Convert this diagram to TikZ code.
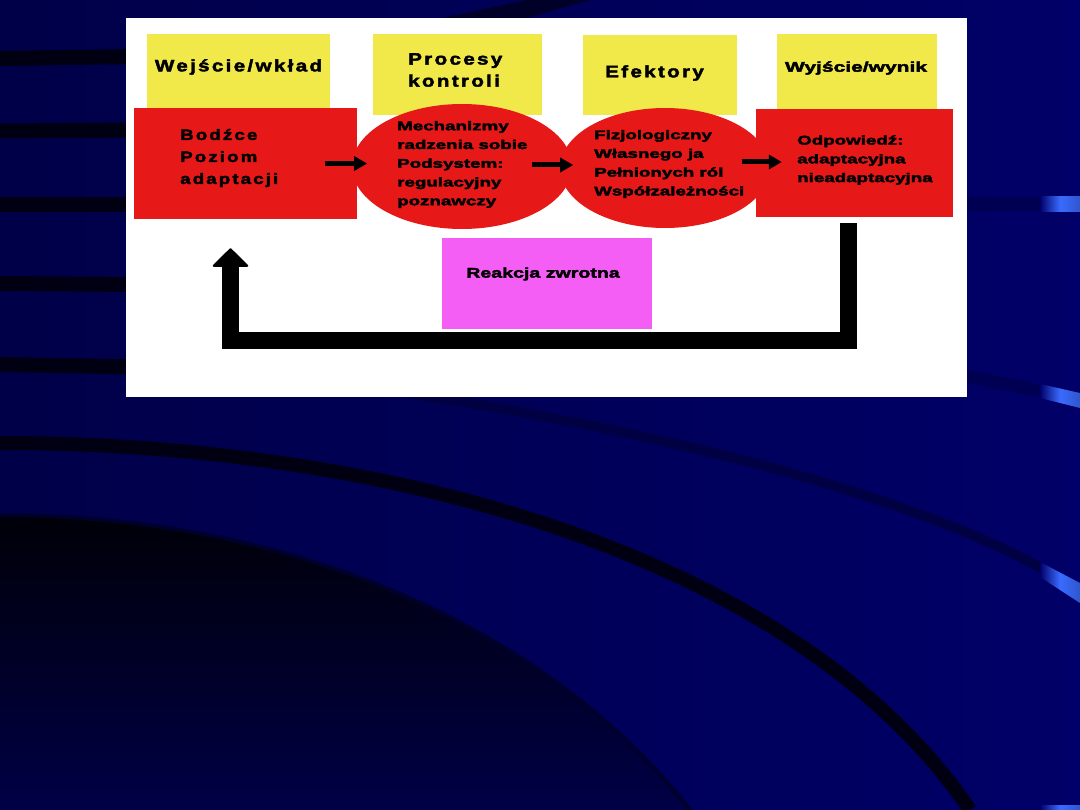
\documentclass[tikz,border=0pt]{standalone}
\usepackage{fontspec}
\setmainfont{Liberation Sans}
\newfontfamily\hdrfont{Liberation Sans}[FakeStretch=1.25,LetterSpace=14,FakeBold=2.5]
\newfontfamily\bodyfont{Liberation Sans}[FakeStretch=1.5,FakeBold=3.2]
\newfontfamily\pinkfont{Liberation Sans}[FakeStretch=1.4,FakeBold=2.8]
\usetikzlibrary{shapes.geometric,arrows.meta,calc}
\definecolor{ybox}{HTML}{F1E94A}
\definecolor{rbox}{HTML}{E61818}
\definecolor{pbox}{HTML}{F55EF5}
\definecolor{bgl}{HTML}{000048}
\definecolor{bgr}{HTML}{000068}
\definecolor{stripe}{HTML}{000012}
\definecolor{faint}{HTML}{000042}
\definecolor{faintr}{HTML}{000052}
\definecolor{hl}{HTML}{3A6BFF}
\definecolor{darkin}{HTML}{000008}
\definecolor{darkout}{HTML}{000046}
\begin{document}
\begin{tikzpicture}[x=1pt,y=-1pt,
  yel/.style={rectangle, fill=ybox, inner sep=0pt},
  redbox/.style={rectangle, fill=rbox, inner sep=0pt},
  redell/.style={ellipse, fill=rbox, inner sep=0pt},
  pinkbox/.style={rectangle, fill=pbox, inner sep=0pt},
  hdr/.style={inner sep=0pt, text=black, align=left, font={\hdrfont\bfseries\fontsize{16.5}{22}\selectfont}},
  hdrs/.style={inner sep=0pt, text=black, align=left, font={\hdrfont\bfseries\fontsize{15}{22}\selectfont}},
  body/.style={inner sep=0pt, text=black, align=left, font={\bodyfont\bfseries\fontsize{12.5}{18.75}\selectfont}},
  bodybig/.style={inner sep=0pt, text=black, align=left, font={\bodyfont\bfseries\fontsize{14}{18}\selectfont}},
  pinktext/.style={inner sep=0pt, text=black, font={\pinkfont\bfseries\fontsize{14}{16}\selectfont}},
  arr/.style={line width=5pt, -{Triangle[width=14pt,length=13pt]}},
  fb/.style={line width=17pt, line join=miter, -{Triangle[width=38pt,length=19pt,line width=2pt,round]}},
  hilite/.style={left color=bgr, right color=hl!80!black, middle color=hl}
]
\useasboundingbox (0,0) rectangle (1080,810);
% background
\shade[left color=bgl, right color=bgr] (0,0) rectangle (1080,810);
\fill[stripe!60!bgl] (442,18) -- (527,0) -- (590,0) -- (527,18) -- cycle;
% dark bottom-left region
\shade[top color=darkin, bottom color=darkout] (0,515) .. controls (280,515) and (540,620) .. (690,810) -- (0,810) -- cycle;
\draw[stripe!50!darkout, line width=4pt] (0,515) .. controls (280,515) and (540,620) .. (690,810);
% arcs
\draw[faint, line width=10pt] (400,392) .. controls (650,430) and (900,490) .. (1045,570);
\draw[stripe, line width=14pt] (0,443) .. controls (400,443) and (800,560) .. (970,810);
% left stripes
\foreach \ya/\yb in {58.5/56.5, 131/130, 204.5/204.5, 283.5/284.5, 364.5/367}
  \draw[stripe, line width=15pt] (0,\ya) -- (140,\yb);
% right faint bands and highlights
\draw[faintr, line width=14pt] (960,204.5) -- (1040,204.5);
\draw[faintr, line width=13pt] (960,375) -- (1040,391);
\shade[hilite] (1040,197) rectangle (1080,212);
\shade[hilite] (1040,384) -- (1080,393) -- (1080,408) -- (1040,398) -- cycle;
\shade[hilite] (1040,562) -- (1080,583) -- (1080,603) -- (1040,577) -- cycle;
\shade[hilite] (1040,805) rectangle (1080,810);
% white panel
\fill[white] (126,18) rectangle (967,397);
% yellow header boxes
\node[yel, minimum width=183pt, minimum height=81pt] (y1) at (238.5,74.5) {};
\node[yel, minimum width=169pt, minimum height=81pt] (y2) at (457.5,74.5) {};
\node[yel, minimum width=154pt, minimum height=80pt] (y3) at (660,75) {};
\node[yel, minimum width=160pt, minimum height=81pt] (y4) at (857,74.5) {};
% red shapes
\node[redell, minimum width=210pt, minimum height=120pt] (el2) at (665,168) {};
\node[redell, minimum width=220pt, minimum height=125pt] (el1) at (462,166.5) {};
\node[redbox, minimum width=223pt, minimum height=111pt] (bx1) at (245.5,163.5) {};
\node[redbox, minimum width=197pt, minimum height=108pt] (bx2) at (854.5,163) {};
% pink box
\node[pinkbox, minimum width=210pt, minimum height=91pt] (pk) at (547,283.5) {};
% texts
\node[hdr] (t1) at (238.5,67) {Wejście/wkład};
\node[hdr, anchor=west] (t2) at (408,70) {Procesy\\kontroli};
\node[hdr] (t3) at (654.5,73) {Efektory};
\node[bodybig] (t4) at (856,68) {Wyjście/wynik};
\node[hdrs, anchor=west] (t5) at (180,158) {Bodźce\\Poziom\\adaptacji};
\node[body, anchor=west] (t6) at (397,164.5) {Mechanizmy\\radzenia sobie\\Podsystem:\\regulacyjny\\poznawczy};
\node[body, anchor=west] (t7) at (594,164) {Fizjologiczny\\Własnego ja\\Pełnionych ról\\Współzależności};
\node[body, anchor=west] (t8) at (797,160) {Odpowiedź:\\adaptacyjna\\nieadaptacyjna};
\node[pinktext] (t9) at (543,274) {Reakcja zwrotna};
% arrows
\draw[arr] ([xshift=-32pt]bx1.east) -- ([xshift=10pt]bx1.east);
\draw[arr] ([xshift=-40pt, yshift=1.5pt]el1.east) -- ([xshift=1pt, yshift=1.5pt]el1.east);
\draw[arr] ([xshift=-14pt, yshift=1pt]bx2.west) -- ([xshift=26pt, yshift=1pt]bx2.west);
% feedback loop
\coordinate (fbstart) at ($(bx2.south)+(-6.5,6)$);
\coordinate (fbturn) at (230.5,341);
\coordinate (fbend) at ($(bx1.south)+(-15,29)$);
\draw[fb] (fbstart) |- (fbturn) -- (fbend);
\end{tikzpicture}
\end{document}
